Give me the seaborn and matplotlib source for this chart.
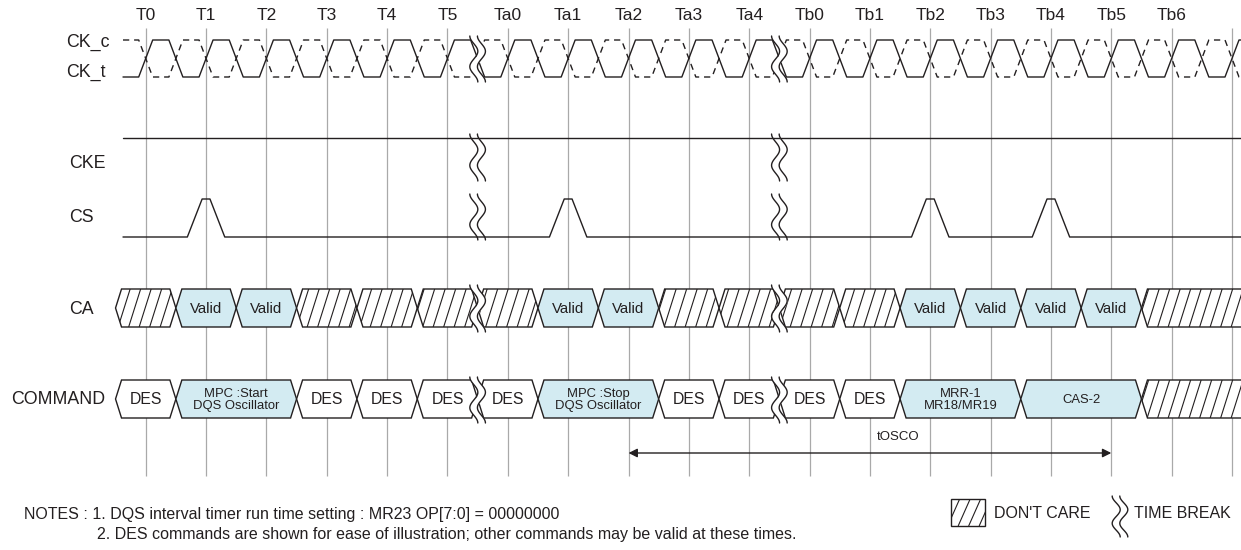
import matplotlib
matplotlib.use("Agg")
import numpy as np
import matplotlib.pyplot as plt
import seaborn as sns
from matplotlib import font_manager
from matplotlib.patches import Polygon, Rectangle
from matplotlib.collections import LineCollection

# ---- diagram content ----
clock_labels = ["T0", "T1", "T2", "T3", "T4", "T5", "Ta0", "Ta1", "Ta2", "Ta3", "Ta4",
                "Tb0", "Tb1", "Tb2", "Tb3", "Tb4", "Tb5", "Tb6"]
n_grid = 19                      # gray edge lines (last one has no label)
time_breaks = ["T5", "Ta4"]      # break sits half a clock after these
cs_pulses = ["T1", "Ta1", "Tb2", "Tb4"]
ca_valid = ["T1", "T2", "Ta1", "Ta2", "Tb2", "Tb3", "Tb4", "Tb5"]
ca_last = "Tb5"                  # don't care from here on
cmd_names = ["DES", "MPC :Start\nDQS Oscillator", "DES", "DES", "DES", "DES",
             "MPC :Stop\nDQS Oscillator", "DES", "DES", "DES", "DES",
             "MRR-1\nMR18/MR19", "CAS-2"]
cmd_clocks = [1, 2, 1, 1, 1, 1, 2, 1, 1, 1, 1, 2, 2]
tosco_span = ["Ta2", "Tb5"]
signal_names = ["CK_c", "CK_t", "CKE", "CS", "CA", "COMMAND"]
notes = ["NOTES : 1. DQS interval timer run time setting : MR23 OP[7:0] = 00000000",
         "2. DES commands are shown for ease of illustration; other commands may be valid at these times."]
legend_names = ["DON'T CARE", "TIME BREAK"]

# ---- layout (pixels of the 1241x550 picture, x converted to clock units) ----
W, Hpx = 1241, 550
P, X0 = 60.35, 145.7
def px(x):
    return (x - X0) / P
XL, XR = px(0), px(W)
K = "#231f20"
GRAY = "#a9a9a9"
BLUE = "#d3ebf2"
HX = 6 / P                       # half width of a bus crossing
START = px(123)

names = {f.name for f in font_manager.fontManager.ttflist}
NARROW = "Liberation Sans Narrow" in names
REG = ["Liberation Sans", "DejaVu Sans"]
NAR = (["Liberation Sans Narrow"] + REG) if NARROW else REG
sz = (lambda n, r: n) if NARROW else (lambda n, r: r)

sns.set_theme(style="white")
plt.rcParams["font.family"] = REG

fig = plt.figure(figsize=(12.41, 5.5), dpi=100)
ax = fig.add_axes([0, 0, 1, 1])
idx = {lab: i for i, lab in enumerate(clock_labels)}


def trace(xs, ys, **kw):
    sns.lineplot(x=xs, y=ys, sort=False, estimator=None, color=K, lw=1.0, ax=ax,
                 zorder=2, **kw)


def hatch(patch, top, bot, z=3.5):
    dx, sp = 12 / P, 10.5 / P
    segs = [[(x, bot), (x + dx, top)] for x in np.arange(XL - 1, XR + 1, sp)]
    lc = LineCollection(segs, colors=K, lw=0.8, zorder=z)
    ax.add_collection(lc)
    lc.set_clip_path(patch)


def block(a, b, top, bot, kind, text=None, fs=12, open_right=False):
    yc = (top + bot) / 2
    if open_right:
        pts = [(a, yc), (a + HX, top), (XR + 1, top), (XR + 1, bot), (a + HX, bot)]
    else:
        pts = [(a, yc), (a + HX, top), (b - HX, top), (b, yc), (b - HX, bot), (a + HX, bot)]
    fc = BLUE if kind == "valid" else "white"
    poly = Polygon(pts, closed=True, facecolor=fc, edgecolor=K, lw=1.0, zorder=3)
    ax.add_patch(poly)
    if kind == "x":
        hatch(poly, top, bot)
    if text:
        ax.text((a + b) / 2, yc + 1, text, ha="center", va="center", fontsize=fs,
                family=NAR, color=K, linespacing=0.95, zorder=4)


def brk(xc, y0, y1, fill=True):
    t = np.linspace(0, 1, 60)
    y = y0 + t * (y1 - y0)
    wav = -(4 / P) * np.cos(3 * np.pi * t)
    xl, xr = xc - 3.8 / P + wav, xc + 3.8 / P + wav
    if fill:
        ax.fill_betweenx(y, xl, xr, color="white", zorder=4.5, lw=0)
    ax.plot(xl, y, color=K, lw=1.0, zorder=5)
    ax.plot(xr, y, color=K, lw=1.0, zorder=5)


# gray clock-edge lines and labels
ax.vlines(np.arange(n_grid), 28, 476, color=GRAY, lw=0.9, zorder=1)
for i, lab in enumerate(clock_labels):
    ax.text(i, 16, lab, ha="center", va="center", fontsize=12.5, color=K)

# clock pair
R = 0.116
def clock(phase, hi, lo):
    bx, by = [], []
    for k in range(-2, n_grid + 2):
        for o, lv in [(-R, lo), (R, hi), (0.5 - R, hi), (0.5 + R, lo)]:
            bx.append(k + o + phase)
            by.append(lv)
    bx, by = np.array(bx), np.array(by)
    keep = bx > START
    return np.r_[START, bx[keep]], np.r_[np.interp(START, bx, by), by[keep]]

CK_HI, CK_LO = 40, 77
xs, ys = clock(0.0, CK_HI, CK_LO)
trace(xs, ys)
xs, ys = clock(0.5, CK_HI, CK_LO)
trace(xs, ys, linestyle=(0, (4.5, 3.5)))

# CKE stays high
CKE_Y = 138
trace([START, XR + 1], [CKE_Y, CKE_Y])

# CS pulses
CS_LO, CS_HI = 237, 199
cx, cy = [START], [CS_LO]
for lab in cs_pulses:
    p = idx[lab]
    cx += [p - 0.31, p - 0.065, p + 0.065, p + 0.31]
    cy += [CS_LO, CS_HI, CS_HI, CS_LO]
cx.append(XR + 1)
cy.append(CS_LO)
trace(cx, cy)

# CA bus
CA_T, CA_B = 289, 327
for i in range(idx[ca_last] + 1):
    kind = "valid" if clock_labels[i] in ca_valid else "x"
    block(i - 0.5, i + 0.5, CA_T, CA_B, kind, "Valid" if kind == "valid" else None,
          fs=sz(12.5, 10.8))
block(idx[ca_last] + 0.5, XR + 1, CA_T, CA_B, "x", open_right=True)

# COMMAND bus
CM_T, CM_B = 380, 418
pos = -0.5
for name, n in zip(cmd_names, cmd_clocks):
    kind = "des" if name == "DES" else "valid"
    fs = sz(12.5, 11.3) if name == "DES" else sz(10.5, 9.4)
    block(pos, pos + n, CM_T, CM_B, kind, name, fs=fs)
    pos += n
block(pos, XR + 1, CM_T, CM_B, "x", open_right=True)

# time breaks
for lab in time_breaks:
    xc = idx[lab] + 0.5
    brk(xc, 36, 82)
    brk(xc, 134, 181, fill=False)
    brk(xc, 194, 240, fill=False)
    brk(xc, 285, 332)
    brk(xc, 377, 423)

# signal names
lx = [66, 66, 69, 69, 69, 11]
ly = [42, 72, 164, 217, 309, 399]
for name, x, y in zip(signal_names, lx, ly):
    ax.text(px(x), y, name, ha="left", va="center", fontsize=12.8, color=K)

# tOSCO
a, b = idx[tosco_span[0]], idx[tosco_span[1]]
ax.annotate("", xy=(b, 453), xytext=(a, 453),
            arrowprops=dict(arrowstyle="<|-|>", color=K, lw=1.0, mutation_scale=13,
                            shrinkA=0, shrinkB=0), zorder=4)
ax.text(px(898), 437, "tOSCO", ha="center", va="center", fontsize=sz(11.5, 9.5),
        family=NAR, color=K)

# notes
ax.text(px(24), 514, notes[0], ha="left", va="center", fontsize=sz(13.7, 11.5),
        family=NAR, color=K)
ax.text(px(97), 535, notes[1], ha="left", va="center", fontsize=sz(13.7, 11.5),
        family=NAR, color=K)

# legend
box = Rectangle((px(951), 499), px(985) - px(951), 27, facecolor="white",
                edgecolor=K, lw=1.0, zorder=3)
ax.add_patch(box)
hatch(box, 499, 526)
ax.text(px(994), 513, legend_names[0], ha="left", va="center", fontsize=sz(13.5, 11.5),
        family=NAR, color=K)
brk(px(1120), 496, 537, fill=False)
ax.text(px(1134), 513, legend_names[1], ha="left", va="center", fontsize=sz(13.5, 11.5),
        family=NAR, color=K)

ax.set_xlim(XL, XR)
ax.set_ylim(Hpx, 0)
ax.axis("off")
fig.savefig("out.png", dpi=100)
